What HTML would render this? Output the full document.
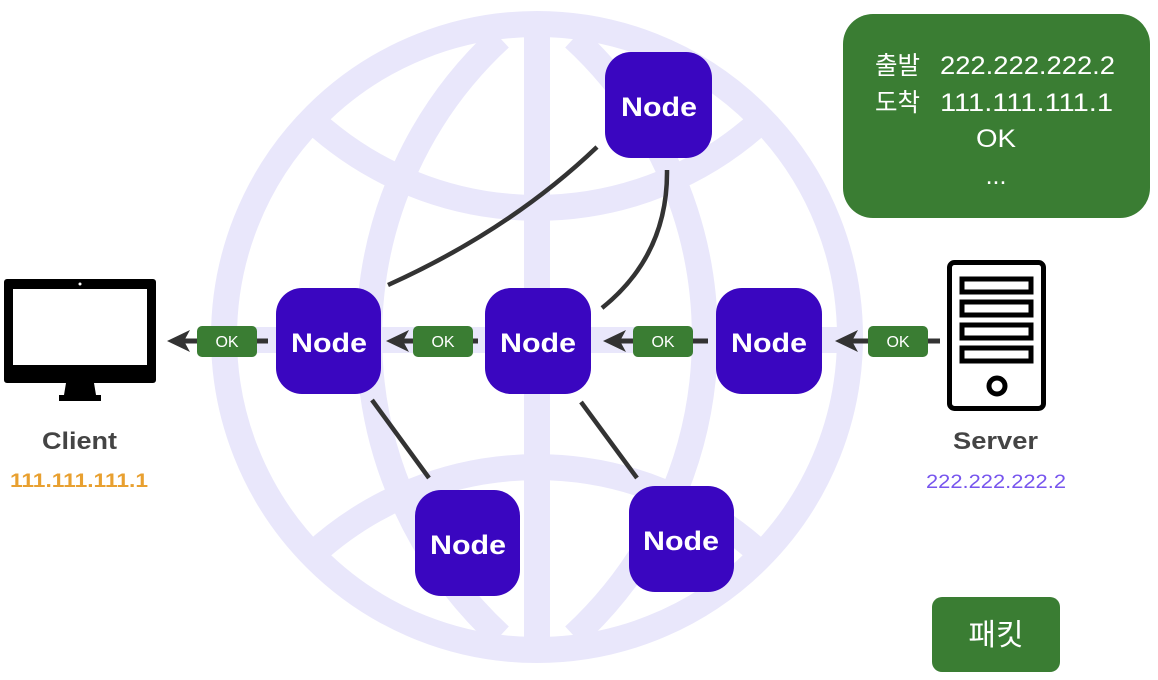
<!DOCTYPE html>
<html><head><meta charset="utf-8"><style>
html,body{margin:0;padding:0;background:#fff;}
svg{display:block;}
text{font-family:"Liberation Sans","Noto Sans CJK KR",sans-serif;}
</style></head><body>
<svg width="1158" height="680" viewBox="0 0 1158 680" xmlns="http://www.w3.org/2000/svg">
<g fill="none" stroke="#e9e7fb" stroke-width="26">
<circle cx="537" cy="337" r="313"/>
<path d="M500 38 A407 407 0 0 0 500 636"/>
<path d="M574 38 A407 407 0 0 1 574 636"/>
<line x1="537" y1="36" x2="537" y2="640"/>
<line x1="224" y1="340" x2="850" y2="340"/>
<path d="M312 120 A332 332 0 0 0 762 120"/>
<path d="M312 555 A332 332 0 0 1 762 555"/>
</g>
<g fill="none" stroke="#333" stroke-width="4.5">
<path d="M597 147 Q510 230 388 285"/>
<path d="M667 170 Q668 255 602 308"/>
<line x1="372" y1="400" x2="429" y2="478"/>
<line x1="581" y1="402" x2="637" y2="478"/>
</g>
<g stroke="#333" stroke-width="5" fill="#333">
<line x1="175" y1="341" x2="268" y2="341"/>
<line x1="395" y1="341" x2="478" y2="341"/>
<line x1="613" y1="341" x2="708" y2="341"/>
<line x1="845" y1="341" x2="940" y2="341"/>
</g>
<g fill="#333">
<path d="M167 341 L190 330 L184 341 L190 352Z"/>
<path d="M386 341 L409 330 L403 341 L409 352Z"/>
<path d="M603 341 L626 330 L620 341 L626 352Z"/>
<path d="M835 341 L858 330 L852 341 L858 352Z"/>
</g>
<g fill="#3a7d33">
<rect x="197" y="326" width="60" height="31" rx="5"/>
<rect x="413" y="326" width="60" height="31" rx="5"/>
<rect x="633" y="326" width="60" height="31" rx="5"/>
<rect x="868" y="326" width="60" height="31" rx="5"/>
</g>
<g fill="#fff" font-size="16" text-anchor="middle">
<text x="227" y="347">OK</text><text x="443" y="347">OK</text><text x="663" y="347">OK</text><text x="898" y="347">OK</text>
</g>
<g fill="#3a06c0">
<rect x="605" y="52" width="107" height="106" rx="26"/>
<rect x="276" y="288" width="105" height="106" rx="26"/>
<rect x="485" y="288" width="106" height="106" rx="26"/>
<rect x="716" y="288" width="106" height="106" rx="26"/>
<rect x="415" y="490" width="105" height="106" rx="26"/>
<rect x="629" y="486" width="105" height="106" rx="26"/>
</g>
<g fill="#fff" font-size="27" font-weight="bold">
<text x="621" y="116" textLength="76" lengthAdjust="spacingAndGlyphs">Node</text>
<text x="291" y="352" textLength="76" lengthAdjust="spacingAndGlyphs">Node</text>
<text x="500" y="352" textLength="76" lengthAdjust="spacingAndGlyphs">Node</text>
<text x="731" y="352" textLength="76" lengthAdjust="spacingAndGlyphs">Node</text>
<text x="430" y="554" textLength="76" lengthAdjust="spacingAndGlyphs">Node</text>
<text x="643" y="550" textLength="76" lengthAdjust="spacingAndGlyphs">Node</text>
</g>
<rect x="4" y="279" width="152" height="104" rx="3" fill="#000"/>
<rect x="13" y="289" width="134" height="76" fill="#fff"/>
<circle cx="80" cy="284" r="1.5" fill="#fff"/>
<path d="M66 383 L94 383 L96 395 L101 395 L101 401 L59 401 L59 395 L64 395Z" fill="#000"/>
<text x="42" y="449" font-size="24" font-weight="bold" fill="#444" textLength="75" lengthAdjust="spacingAndGlyphs">Client</text>
<text x="10" y="487" font-size="19" font-weight="bold" fill="#e8a030" textLength="138" lengthAdjust="spacingAndGlyphs">111.111.111.1</text>
<rect x="949.5" y="262.5" width="94" height="146" rx="5" fill="none" stroke="#000" stroke-width="5"/>
<g fill="none" stroke="#000" stroke-width="5">
<rect x="962" y="279" width="69" height="13"/>
<rect x="962" y="302" width="69" height="13"/>
<rect x="962" y="325" width="69" height="13"/>
<rect x="962" y="348" width="69" height="13"/>
<circle cx="997" cy="386" r="8"/>
</g>
<text x="953" y="449" font-size="24" font-weight="bold" fill="#444" textLength="85" lengthAdjust="spacingAndGlyphs">Server</text>
<text x="926" y="488" font-size="19" fill="#7755ee" textLength="140" lengthAdjust="spacingAndGlyphs">222.222.222.2</text>
<rect x="843" y="14" width="307" height="204" rx="30" fill="#3a7d33"/>
<g fill="#fff" font-size="25">
<text x="875" y="74" textLength="45" lengthAdjust="spacingAndGlyphs">출발</text><text x="940" y="74" textLength="175" lengthAdjust="spacingAndGlyphs">222.222.222.2</text>
<text x="875" y="111" textLength="45" lengthAdjust="spacingAndGlyphs">도착</text><text x="940" y="111" textLength="173" lengthAdjust="spacingAndGlyphs">111.111.111.1</text>
<text x="976" y="147" textLength="40" lengthAdjust="spacingAndGlyphs">OK</text>
<text x="996" y="184" text-anchor="middle">...</text>
</g>
<rect x="932" y="597" width="128" height="75" rx="10" fill="#3a7d33"/>
<text x="996" y="645" font-size="30" fill="#fff" text-anchor="middle">패킷</text>
</svg>
</body></html>
